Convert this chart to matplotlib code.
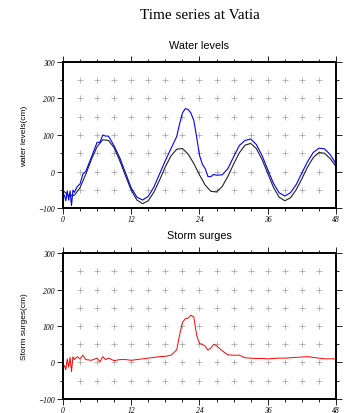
import numpy as np
from matplotlib import pyplot as plt

# predicted tide (hourly)
tide_hours = list(range(49))
tide = [-52, -66, -65, -44, -8, 33, 68, 87, 85, 65, 29, -12, -51, -78, -88,
        -80, -56, -23, 13, 43, 61, 63, 48, 22, -9, -37, -54, -56, -41, -13,
        20, 51, 72, 77, 63, 33, -5, -43, -70, -80, -72, -50, -20, 12, 38, 52,
        50, 35, 14]

# observed water levels and storm surge
obs_hours = [0, 0.25, 0.5, 0.75, 1, 1.25, 1.5, 1.75, 2, 2.5, 3, 3.5, 4, 5, 6,
             6.5, 7, 7.5, 8, 9, 10, 11, 12, 13, 14, 15, 16, 17, 18, 19, 20,
             20.5, 21, 21.5, 22, 22.5, 23, 23.5, 24, 24.5, 25, 25.5, 26, 26.5,
             27, 28, 29, 30, 31, 32, 33, 34, 35, 36, 37, 38, 39, 40, 41, 42,
             43, 44, 45, 46, 47, 48]
observed = [-68, -64, -80, -53, -78, -53, -93, -51, -57, -41, -34, -7, 0, 39,
            80, 80, 100, 97, 97, 70, 37, -4, -45, -70, -78, -68, -42, -6, 30,
            63, 96, 130, 160, 172, 170, 160, 140, 95, 45, 20, 8, -14, -14, -8,
            -10, -9, 8, 40, 71, 85, 89, 74, 44, 5, -32, -58, -67, -58, -36,
            -4, 27, 52, 64, 62, 46, 21]
surge = [-16, -8, -20, 10, -12, 14, -25, 16, 8, 16, 10, 20, 8, 6, 12,
         2, 16, 8, 12, 5, 8, 8, 6, 8, 10, 12, 14, 16, 17, 20, 35,
         75, 110, 120, 122, 130, 125, 75, 52, 50, 45, 34, 40, 50,
         46, 32, 21, 20, 20, 13, 12, 11, 11, 10, 11, 12, 12, 13, 14, 15,
         16, 14, 12, 10, 10, 10]

serif = 'Liberation Serif'
sans = 'Liberation Sans'


def style_axes(ax, ylabel):
    ax.set_xlim(0, 48)
    ax.set_ylim(-100, 300)
    ax.set_xticks([0, 12, 24, 36, 48])
    ax.set_xticks(np.arange(0, 49, 3), minor=True)
    ax.set_yticks([-100, 0, 100, 200, 300])
    ax.set_yticks(np.arange(-100, 301, 50), minor=True)
    ax.set_yticklabels(['\u2212100', '0', '100', '200', '300'])
    ax.tick_params(which='both', direction='out', top=True, right=True,
                   width=0.6, colors='black')
    ax.tick_params(which='major', length=4)
    ax.tick_params(which='minor', length=2)
    for lab in ax.get_xticklabels() + ax.get_yticklabels():
        lab.set_fontfamily(serif)
        lab.set_fontstyle('italic')
        lab.set_fontsize(5.5)
    ax.tick_params(axis='x', pad=1)
    ax.tick_params(axis='y', pad=2)
    for sp in ax.spines.values():
        sp.set_linewidth(1.4)
    # grid crosses
    gx, gy = np.meshgrid(np.arange(3, 48, 3), np.arange(-50, 300, 50))
    ax.scatter(gx.ravel(), gy.ravel(), marker='+', s=14, c='#a0a0a0',
               linewidths=0.5, zorder=0)
    ax.set_ylabel(ylabel, fontfamily=sans, fontsize=6, labelpad=7)


fig = plt.figure(figsize=(3.46, 4.14), dpi=100)

ax1 = fig.add_axes([0.182, 0.495, 0.789, 0.353])
style_axes(ax1, 'water levels(cm)')
ax1.plot(tide_hours, tide, color='#222222', lw=0.8)
ax1.plot(obs_hours, observed, color='#0000ff', lw=0.8)
ax1.set_title('Water levels', fontfamily=sans, fontsize=7.8, pad=10)

ax2 = fig.add_axes([0.182, 0.034, 0.789, 0.352])
style_axes(ax2, 'Storm surges(cm)')
ax2.plot(obs_hours, surge, color='#ff0000', lw=0.7)
ax2.set_title('Storm surges', fontfamily=sans, fontsize=7.8, pad=11)

fig.text(0.577, 0.963, 'Time series at Vatia', ha='center', va='center',
         fontfamily=serif, fontsize=11)

fig.savefig('out.png', dpi=100)
